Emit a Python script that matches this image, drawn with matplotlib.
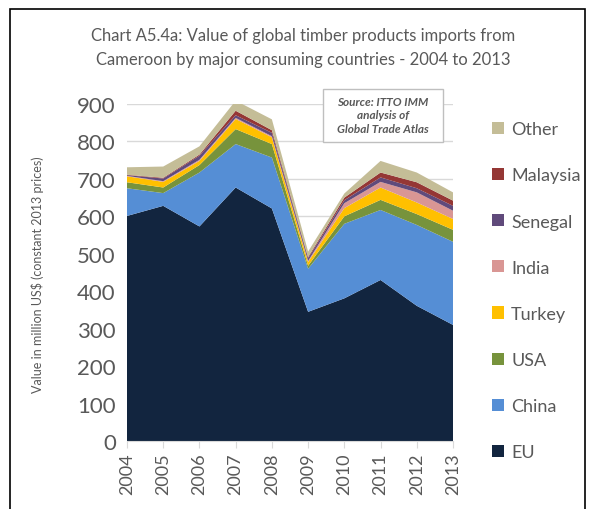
import matplotlib.pyplot as plt
from matplotlib.patches import Rectangle, Patch

plt.rcParams['font.family'] = ['Lato', 'DejaVu Sans']

years = [2004, 2005, 2006, 2007, 2008, 2009, 2010, 2011, 2012, 2013]

# million US$ (constant 2013 prices)
eu       = [601, 628, 573, 677, 621, 345, 381, 430, 361, 310]
china    = [74, 34, 144, 116, 136, 115, 199, 187, 216, 222]
usa      = [16, 15, 20, 40, 36, 8, 20, 27, 29, 32]
turkey   = [16, 15, 11, 27, 18, 10, 22, 33, 31, 29]
india    = [1, 2, 3, 3, 3, 3, 13, 15, 27, 22]
senegal  = [2, 7, 11, 7, 9, 7, 8, 12, 11, 13]
malaysia = [1, 2, 3, 12, 7, 3, 7, 13, 16, 14]
other    = [20, 30, 22, 27, 29, 15, 11, 31, 26, 22]

labels = ['EU', 'China', 'USA', 'Turkey', 'India', 'Senegal', 'Malaysia', 'Other']
colors = ['#12253F', '#558ED5', '#77933C', '#FFC000', '#D99694',
          '#604A7B', '#953735', '#C4BD97']

grey = '#595959'

fig = plt.figure(figsize=(5.94, 5.10), dpi=100)

# outer chart border (open at the bottom, as in the cropped original)
fig.patches.append(Rectangle((10 / 594, -0.05), 575 / 594, 1 - 10 / 510 + 0.05,
                             transform=fig.transFigure, fill=False,
                             edgecolor='black', linewidth=1.2))

ax = fig.add_axes([127 / 594, 1 - 442 / 510, 326 / 594, 337 / 510])
ax.stackplot(years, eu, china, usa, turkey, india, senegal, malaysia, other,
             colors=colors, labels=labels, linewidth=0)

ax.set_xlim(2004, 2013)
ax.set_ylim(0, 900)
ax.set_yticks(range(0, 1000, 100))
ax.set_xticks(years)
ax.set_xticklabels([str(y) for y in years], rotation=90)
ax.grid(axis='y', color='#D9D9D9', linewidth=1)
ax.set_axisbelow(True)
for side in ['top', 'right', 'left']:
    ax.spines[side].set_visible(False)
ax.spines['bottom'].set_color('#D9D9D9')
ax.tick_params(axis='y', length=0, labelsize=16, labelcolor=grey, pad=8)
ax.tick_params(axis='x', length=5, color='#D9D9D9', labelsize=13,
               labelcolor=grey, pad=3)

fig.text(38 / 594, 1 - 275 / 510, 'Value in million US$ (constant 2013 prices)',
         rotation=90, ha='center', va='center', fontsize=9, color=grey)

fig.text(303 / 594, 1 - 36 / 510,
         'Chart A5.4a: Value of global timber products imports from',
         ha='center', va='center', fontsize=12, color=grey)
fig.text(303 / 594, 1 - 60 / 510,
         'Cameroon by major consuming countries - 2004 to 2013',
         ha='center', va='center', fontsize=12, color=grey)

# source box
fig.patches.append(Rectangle((323 / 594, 1 - 143 / 510), 120 / 594, 53 / 510,
                             transform=fig.transFigure, facecolor='white',
                             edgecolor='#BFBFBF', linewidth=1, zorder=5))
fig.text(383 / 594, 1 - 116 / 510,
         'Source: ITTO IMM\nanalysis of\nGlobal Trade Atlas',
         ha='center', va='center', fontsize=8.5, color=grey,
         fontstyle='italic', fontweight='bold', linespacing=1.25, zorder=6)

handles = [Patch(facecolor=c, edgecolor='none') for c in colors]
fig.legend(handles[::-1], labels[::-1], loc='upper left',
           bbox_to_anchor=(485 / 594, 1 - 115 / 510), frameon=False,
           fontsize=13, labelcolor=grey, handlelength=0.65, handleheight=0.65,
           handletextpad=0.4, labelspacing=1.67, borderaxespad=0)

fig.savefig('out.png', dpi=100)
